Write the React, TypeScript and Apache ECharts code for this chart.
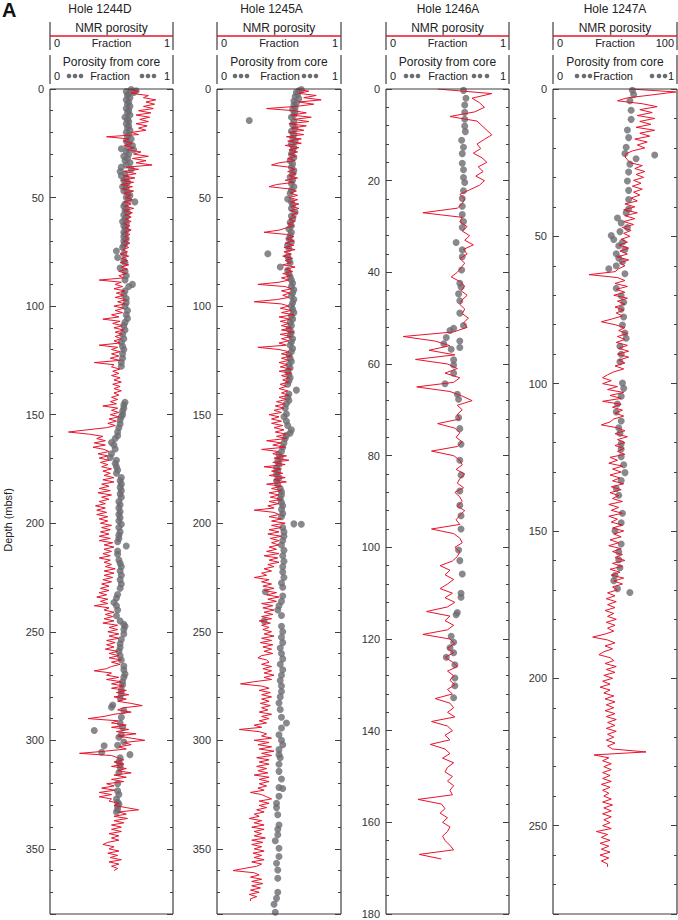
import React, { useEffect, useRef } from "react";
import * as echarts from "echarts";

// ---------- DATA ----------
const holes = ["Hole 1244D", "Hole 1245A", "Hole 1246A", "Hole 1247A"];
const depthMax = [380, 380, 180, 280];
const majorStep = [50, 50, 20, 50];
const minorStep = [10, 10, 4, 10];
const nmrAxisMax = [1, 1, 1, 100];
const nmrRightLabel = ["1", "1", "1", "100"];
const coreRightLabel = ["1", "1", "1", "1"];
const nmrDepthStep = [1, 1, 1, 1];

// NMR porosity (fraction; 1247A in percent), one reading per metre from 0 mbsf
const nmr1244D = [
  0.62, 0.72, 0.66, 0.80, 0.76, 0.86, 0.78, 0.85, 0.76, 0.84,
  0.72, 0.82, 0.70, 0.81, 0.73, 0.80, 0.70, 0.79, 0.72, 0.78,
  0.66, 0.72, 0.46, 0.64, 0.60, 0.67, 0.60, 0.68, 0.63, 0.74,
  0.68, 0.80, 0.67, 0.78, 0.70, 0.83, 0.62, 0.72, 0.60, 0.70,
  0.60, 0.69, 0.58, 0.68, 0.58, 0.67, 0.59, 0.68, 0.60, 0.66,
  0.61, 0.67, 0.60, 0.66, 0.61, 0.68, 0.60, 0.67, 0.61, 0.66,
  0.61, 0.66, 0.60, 0.65, 0.61, 0.66, 0.60, 0.65, 0.61, 0.64,
  0.60, 0.65, 0.60, 0.64, 0.59, 0.63, 0.57, 0.64, 0.58, 0.63,
  0.57, 0.64, 0.58, 0.63, 0.56, 0.62, 0.56, 0.60, 0.40, 0.58,
  0.53, 0.59, 0.52, 0.61, 0.54, 0.60, 0.53, 0.62, 0.55, 0.61,
  0.52, 0.60, 0.53, 0.59, 0.50, 0.56, 0.43, 0.57, 0.51, 0.59,
  0.52, 0.60, 0.53, 0.59, 0.53, 0.58, 0.52, 0.57, 0.40, 0.55,
  0.50, 0.57, 0.50, 0.56, 0.49, 0.57, 0.36, 0.52, 0.50, 0.57,
  0.51, 0.56, 0.50, 0.57, 0.52, 0.58, 0.51, 0.57, 0.52, 0.58,
  0.52, 0.56, 0.50, 0.55, 0.49, 0.54, 0.43, 0.55, 0.50, 0.56,
  0.49, 0.56, 0.48, 0.54, 0.47, 0.53, 0.46, 0.30, 0.15, 0.32,
  0.43, 0.38, 0.45, 0.36, 0.45, 0.35, 0.44, 0.48, 0.39, 0.47,
  0.40, 0.48, 0.41, 0.47, 0.42, 0.50, 0.43, 0.49, 0.44, 0.52,
  0.43, 0.52, 0.42, 0.48, 0.40, 0.49, 0.39, 0.50, 0.42, 0.48,
  0.40, 0.45, 0.37, 0.45, 0.38, 0.46, 0.38, 0.47, 0.40, 0.47,
  0.41, 0.50, 0.42, 0.49, 0.41, 0.48, 0.40, 0.49, 0.40, 0.51,
  0.44, 0.52, 0.44, 0.50, 0.43, 0.49, 0.40, 0.49, 0.44, 0.50,
  0.45, 0.53, 0.44, 0.52, 0.44, 0.51, 0.43, 0.50, 0.42, 0.48,
  0.41, 0.48, 0.40, 0.46, 0.38, 0.47, 0.41, 0.47, 0.36, 0.48,
  0.44, 0.52, 0.45, 0.51, 0.44, 0.52, 0.43, 0.55, 0.48, 0.55,
  0.47, 0.56, 0.48, 0.56, 0.46, 0.53, 0.46, 0.52, 0.45, 0.55,
  0.48, 0.56, 0.48, 0.58, 0.50, 0.57, 0.50, 0.46, 0.36, 0.50,
  0.46, 0.56, 0.46, 0.58, 0.50, 0.60, 0.50, 0.62, 0.54, 0.64,
  0.52, 0.62, 0.55, 0.66, 0.75, 0.60, 0.55, 0.66, 0.52, 0.44,
  0.31, 0.55, 0.50, 0.62, 0.50, 0.64, 0.54, 0.70, 0.55, 0.66,
  0.77, 0.60, 0.66, 0.56, 0.62, 0.45, 0.24, 0.50, 0.55, 0.60,
  0.52, 0.60, 0.50, 0.62, 0.55, 0.66, 0.52, 0.62, 0.50, 0.60,
  0.46, 0.52, 0.42, 0.53, 0.40, 0.50, 0.40, 0.50, 0.48, 0.56,
  0.52, 0.62, 0.72, 0.56, 0.62, 0.52, 0.63, 0.52, 0.60, 0.50,
  0.58, 0.50, 0.58, 0.48, 0.56, 0.50, 0.56, 0.47, 0.43, 0.52,
  0.48, 0.56, 0.47, 0.55, 0.49, 0.58, 0.48, 0.56, 0.50, 0.55,
  0.52,
];

const nmr1245A = [
  0.64, 0.74, 0.66, 0.80, 0.70, 0.84, 0.66, 0.78, 0.64, 0.40,
  0.62, 0.72, 0.60, 0.76, 0.62, 0.74, 0.58, 0.72, 0.60, 0.70,
  0.58, 0.70, 0.56, 0.68, 0.57, 0.68, 0.55, 0.66, 0.58, 0.65,
  0.58, 0.64, 0.57, 0.63, 0.50, 0.44, 0.58, 0.63, 0.57, 0.64,
  0.58, 0.65, 0.55, 0.62, 0.48, 0.42, 0.58, 0.64, 0.59, 0.65,
  0.58, 0.65, 0.59, 0.66, 0.60, 0.66, 0.59, 0.65, 0.60, 0.64,
  0.58, 0.63, 0.57, 0.62, 0.56, 0.50, 0.38, 0.56, 0.62, 0.56,
  0.62, 0.55, 0.62, 0.54, 0.63, 0.54, 0.60, 0.53, 0.61, 0.55,
  0.60, 0.53, 0.63, 0.55, 0.61, 0.53, 0.60, 0.52, 0.58, 0.50,
  0.33, 0.55, 0.60, 0.52, 0.59, 0.53, 0.58, 0.48, 0.30, 0.52,
  0.58, 0.51, 0.60, 0.52, 0.62, 0.50, 0.59, 0.51, 0.58, 0.52,
  0.60, 0.52, 0.62, 0.51, 0.60, 0.52, 0.58, 0.50, 0.56, 0.33,
  0.50, 0.58, 0.52, 0.60, 0.52, 0.58, 0.50, 0.57, 0.51, 0.60,
  0.50, 0.60, 0.52, 0.58, 0.53, 0.58, 0.51, 0.56, 0.50, 0.57,
  0.52, 0.58, 0.50, 0.56, 0.48, 0.55, 0.47, 0.54, 0.46, 0.52,
  0.42, 0.50, 0.44, 0.52, 0.44, 0.53, 0.46, 0.54, 0.47, 0.56,
  0.48, 0.56, 0.40, 0.52, 0.45, 0.55, 0.36, 0.50, 0.45, 0.56,
  0.46, 0.58, 0.45, 0.55, 0.38, 0.52, 0.44, 0.53, 0.42, 0.55,
  0.46, 0.56, 0.40, 0.52, 0.44, 0.52, 0.42, 0.50, 0.43, 0.52,
  0.42, 0.50, 0.41, 0.46, 0.30, 0.46, 0.50, 0.42, 0.52, 0.44,
  0.55, 0.44, 0.52, 0.42, 0.50, 0.41, 0.52, 0.43, 0.50, 0.44,
  0.50, 0.42, 0.48, 0.40, 0.50, 0.38, 0.49, 0.42, 0.50, 0.41,
  0.46, 0.38, 0.44, 0.36, 0.40, 0.30, 0.42, 0.36, 0.44, 0.37,
  0.46, 0.38, 0.48, 0.40, 0.50, 0.41, 0.48, 0.36, 0.45, 0.37,
  0.46, 0.38, 0.45, 0.36, 0.44, 0.34, 0.43, 0.36, 0.42, 0.37,
  0.44, 0.38, 0.46, 0.36, 0.44, 0.35, 0.45, 0.37, 0.44, 0.38,
  0.45, 0.36, 0.33, 0.40, 0.42, 0.36, 0.44, 0.37, 0.44, 0.38,
  0.46, 0.38, 0.44, 0.30, 0.19, 0.36, 0.42, 0.34, 0.43, 0.36,
  0.44, 0.36, 0.42, 0.35, 0.43, 0.36, 0.41, 0.34, 0.44, 0.36,
  0.42, 0.34, 0.40, 0.30, 0.36, 0.18, 0.34, 0.40, 0.36, 0.44,
  0.30, 0.42, 0.33, 0.44, 0.34, 0.46, 0.36, 0.44, 0.32, 0.42,
  0.34, 0.42, 0.32, 0.40, 0.33, 0.41, 0.30, 0.42, 0.34, 0.42,
  0.34, 0.40, 0.33, 0.38, 0.27, 0.36, 0.40, 0.44, 0.34, 0.42,
  0.34, 0.40, 0.32, 0.38, 0.30, 0.34, 0.26, 0.36, 0.30, 0.38,
  0.28, 0.38, 0.30, 0.36, 0.30, 0.39, 0.28, 0.37, 0.28, 0.36,
  0.30, 0.38, 0.29, 0.36, 0.30, 0.38, 0.28, 0.36, 0.32, 0.22,
  0.13, 0.30, 0.34, 0.27, 0.36, 0.28, 0.37, 0.28, 0.35, 0.27,
  0.34, 0.26, 0.32, 0.27, 0.27,
];

const nmr1246A = [
  0.42, 0.86, 0.70, 0.76, 0.80, 0.72, 0.52, 0.74, 0.78, 0.82,
  0.86, 0.80, 0.74, 0.77, 0.71, 0.78, 0.82, 0.75, 0.79, 0.73,
  0.80, 0.76, 0.68, 0.60, 0.64, 0.62, 0.58, 0.30, 0.62, 0.60,
  0.66, 0.62, 0.68, 0.64, 0.71, 0.63, 0.66, 0.60, 0.64, 0.61,
  0.58, 0.53, 0.60, 0.64, 0.61, 0.66, 0.62, 0.60, 0.64, 0.62,
  0.67, 0.63, 0.66, 0.55, 0.14, 0.40, 0.52, 0.35, 0.56, 0.24,
  0.50, 0.58, 0.48, 0.60, 0.55, 0.25, 0.52, 0.62, 0.70, 0.58,
  0.62, 0.58, 0.60, 0.42, 0.56, 0.60, 0.57, 0.62, 0.58, 0.37,
  0.55, 0.60, 0.62, 0.57, 0.64, 0.60, 0.58, 0.63, 0.56, 0.60,
  0.62, 0.58, 0.64, 0.60, 0.57, 0.60, 0.37, 0.55, 0.60, 0.62,
  0.56, 0.60, 0.58, 0.54, 0.44, 0.52, 0.48, 0.55, 0.50, 0.44,
  0.54, 0.48, 0.56, 0.50, 0.33, 0.52, 0.48, 0.55, 0.50, 0.30,
  0.52, 0.56, 0.50, 0.55, 0.48, 0.54, 0.58, 0.50, 0.55, 0.52,
  0.56, 0.50, 0.54, 0.40, 0.52, 0.55, 0.50, 0.56, 0.37, 0.50,
  0.54, 0.48, 0.52, 0.36, 0.48, 0.52, 0.46, 0.55, 0.50, 0.48,
  0.54, 0.50, 0.55, 0.52, 0.54, 0.26, 0.45, 0.48, 0.44, 0.50,
  0.46, 0.52, 0.50, 0.46, 0.48, 0.52, 0.55, 0.27, 0.45,
];

const nmr1247A = [
  62, 99, 80, 60, 52, 72, 84, 70, 80, 68,
  82, 70, 79, 67, 82, 70, 78, 66, 76, 68,
  74, 64, 59, 58, 60, 62, 72, 66, 74, 67,
  73, 65, 71, 64, 72, 65, 70, 63, 68, 58,
  66, 57, 68, 58, 66, 57, 65, 56, 63, 57,
  62, 55, 60, 53, 61, 54, 60, 52, 61, 54,
  58, 53, 50, 29, 52, 58, 50, 60, 51, 58,
  49, 60, 52, 58, 50, 57, 51, 56, 48, 39,
  50, 58, 53, 60, 52, 58, 51, 60, 53, 61,
  52, 61, 53, 58, 50, 57, 49, 44, 40, 47,
  40, 52, 44, 57, 46, 55, 40, 55, 48, 56,
  50, 57, 49, 46, 39, 52, 58, 50, 60, 52,
  58, 50, 57, 52, 58, 46, 52, 45, 56, 48,
  55, 46, 54, 48, 57, 47, 55, 46, 53, 48,
  56, 45, 53, 47, 56, 45, 52, 47, 56, 48,
  57, 49, 55, 46, 53, 45, 55, 48, 56, 50,
  58, 48, 56, 46, 54, 47, 57, 49, 56, 48,
  52, 44, 50, 43, 51, 44, 50, 42, 49, 44,
  51, 43, 50, 44, 49, 42, 32, 44, 50, 42,
  48, 41, 37, 46, 49, 42, 51, 43, 50, 41,
  48, 40, 46, 38, 46, 41, 49, 42, 50, 43,
  49, 42, 50, 43, 51, 44, 50, 43, 51, 44,
  49, 43, 50, 44, 48, 75, 33, 45, 40, 47,
  41, 47, 40, 46, 40, 47, 39, 46, 40, 45,
  41, 47, 40, 48, 41, 47, 40, 47, 41, 46,
  40, 47, 35, 44, 39, 46, 38, 45, 39, 46,
  38, 45, 39, 44, 44,
];

// Porosity from core: [depth (mbsf), fraction]
const core1244D: number[][] = [
  [0.3,0.66],[0.8,0.70],[1.2,0.62],[1.6,0.68],[2.2,0.64],[3,0.63],[4,0.65],[5,0.62],[6,0.64],[7,0.63],
  [8,0.65],[9,0.62],[10,0.64],[11,0.63],[12,0.65],[13,0.61],[14,0.63],[15,0.64],[16,0.62],[17,0.64],
  [18,0.63],[19,0.65],[20,0.62],[21,0.64],[22,0.63],[23,0.66],[24,0.62],[25,0.64],[26,0.67],[27,0.63],
  [27.5,0.58],[28,0.68],[29,0.62],[30,0.64],[31,0.60],[32,0.63],[33,0.61],[34,0.65],[35,0.62],[36,0.58],
  [37,0.66],[38,0.57],[39,0.61],[40,0.58],[41,0.62],[42,0.60],[43,0.63],[44,0.61],[45,0.59],[46,0.62],
  [47,0.60],[48,0.63],[49,0.65],[50,0.62],[51,0.64],[52,0.69],[53,0.61],[54,0.60],[55,0.62],[56,0.61],
  [57,0.63],[58,0.60],[59,0.62],[60,0.61],[61,0.59],[62,0.62],[63,0.60],[64,0.61],[65,0.62],[66,0.60],
  [67,0.61],[68,0.60],[69,0.62],[70,0.60],[71,0.61],[72,0.60],[73,0.59],[74.6,0.54],[76,0.60],[77.6,0.55],
  [79,0.60],[80,0.61],[82.5,0.57],[84,0.61],[86,0.62],[88,0.61],[90,0.67],[91,0.64],[93,0.61],[94.7,0.60],
  [96.5,0.62],[98.4,0.62],[100,0.61],[102,0.63],[104,0.62],[105.7,0.63],[107.5,0.61],[109,0.60],[111,0.61],[113,0.59],
  [115,0.60],[116.7,0.58],[118.5,0.59],[120,0.60],[122,0.59],[124,0.59],[126,0.58],[127.7,0.58],
  [144.3,0.61],[145.5,0.60],[147,0.60],[148.5,0.59],[150,0.59],[151,0.58],[152.5,0.57],[154.3,0.57],[156,0.56],[158,0.55],
  [159.7,0.55],[161,0.53],[162.8,0.50],[164,0.52],[165.8,0.53],[168,0.50],[169.7,0.49],[171,0.54],[172.5,0.53],[174,0.54],
  [175.5,0.55],[177,0.54],[179,0.58],[180.5,0.57],[182,0.58],[183.5,0.57],[185,0.58],[186.6,0.57],[188,0.58],[190,0.56],
  [191.5,0.57],[193,0.56],[194.7,0.57],[196,0.56],[197.5,0.57],[199,0.56],[200.5,0.58],[202,0.56],[204,0.57],[205.5,0.56],
  [207,0.56],[208.5,0.55],[210.5,0.62],[212.8,0.55],[214.3,0.55],[217,0.56],[218.5,0.57],[220,0.58],[222,0.57],[224,0.58],
  [226,0.57],[228,0.58],[230,0.57],[232.8,0.55],[234.5,0.54],[236.5,0.52],[238,0.54],[240,0.55],[242.6,0.54],[245,0.57],
  [246.5,0.60],[247.5,0.61],[249,0.60],[251,0.60],[253.6,0.58],[255.5,0.57],[257.3,0.57],[259,0.56],[261,0.57],[263,0.58],
  [265.8,0.60],[267.5,0.60],[269.5,0.61],[271,0.60],[273,0.59],[274.5,0.59],[276.9,0.58],[278.5,0.58],[280.5,0.57],[283.7,0.51],
  [284.8,0.50],[286.3,0.60],[289.4,0.58],[292,0.57],[294,0.59],[295.5,0.36],[297.4,0.58],[298.6,0.56],[300.8,0.60],[302.3,0.55],
  [302.5,0.44],[305.5,0.42],[306.6,0.65],[308,0.57],[309.9,0.56],[311,0.57],[312.3,0.57],[314.8,0.56],[320,0.55],[323.3,0.55],
  [325,0.56],[327,0.54],[328.5,0.55],[329.4,0.56],[330.5,0.55],[331.9,0.55],[333,0.54],
];

const core1245A: number[][] = [
  [0.2,0.68],[0.8,0.66],[1.5,0.64],[2.5,0.65],[3.5,0.63],[4.5,0.66],[5.5,0.62],[6.5,0.64],[7.5,0.62],[8.5,0.63],
  [9.5,0.61],[10.5,0.63],[12,0.62],[13,0.60],[14.5,0.26],[15,0.62],[16.5,0.61],[18,0.63],[19.5,0.60],[21,0.62],
  [22.5,0.61],[24,0.63],[25.5,0.60],[27,0.62],[28.5,0.61],[30,0.60],[31.5,0.62],[33,0.59],[34.5,0.61],[36,0.60],
  [37.5,0.62],[39,0.61],[40.5,0.59],[42,0.61],[43.5,0.60],[45,0.62],[46.5,0.60],[48,0.59],[50.7,0.57],[52,0.60],
  [53.5,0.61],[55,0.60],[56.8,0.63],[58.5,0.60],[60,0.61],[61.5,0.59],[63,0.60],[64.5,0.58],[66,0.60],[67.5,0.59],
  [69,0.58],[70.5,0.60],[72,0.57],[73.5,0.58],[75.9,0.41],[77,0.57],[78.5,0.58],[80,0.59],[82,0.51],[83.5,0.57],
  [85,0.58],[86.5,0.59],[88,0.60],[89.5,0.61],[91,0.60],[92.5,0.62],[94,0.61],[95.5,0.60],[97,0.62],[98.5,0.61],
  [100,0.60],[101.5,0.61],[103,0.62],[104.5,0.60],[106,0.61],[107.5,0.59],[109,0.60],[110.5,0.58],[112,0.60],[113.5,0.59],
  [115,0.61],[116.5,0.60],[118,0.59],[119.5,0.61],[121,0.60],[122.5,0.58],[124,0.59],[125.5,0.60],[127,0.58],[128.5,0.59],
  [130,0.57],[131.5,0.58],[133,0.59],[134.5,0.58],[136,0.57],[138.7,0.64],[140.5,0.58],[142,0.57],[143.5,0.58],[145,0.56],
  [147,0.55],[149.7,0.56],[151,0.54],[153,0.56],[155,0.57],[157,0.60],[158.5,0.59],[159.5,0.56],[161,0.55],[163,0.54],
  [165,0.53],[167,0.52],[168.5,0.50],[170,0.51],[171.5,0.49],[173,0.50],[174.5,0.48],[176,0.49],[177.5,0.48],[179,0.50],
  [180.5,0.48],[182,0.49],[184,0.51],[185.5,0.52],[187,0.52],[188.8,0.51],[190.5,0.52],[192,0.53],[193.7,0.52],[195.5,0.53],
  [197,0.52],[200.3,0.62],[200.5,0.68],[202,0.53],[204,0.54],[206,0.54],[208,0.53],[210,0.52],[212.5,0.54],[215,0.53],
  [217.5,0.54],[220,0.53],[222.5,0.53],[225,0.54],[227.5,0.52],[229.5,0.53],[231.6,0.39],[233.5,0.53],[236,0.52],[238,0.50],
  [240,0.49],[242.5,0.52],[245,0.38],[247.5,0.52],[250,0.53],[252.5,0.52],[255,0.53],[257.5,0.51],[260,0.52],[262.5,0.53],
  [265,0.51],[267.5,0.53],[270,0.52],[272.5,0.51],[275,0.52],[277.5,0.52],[280,0.51],[282.8,0.50],[285.8,0.51],[289.4,0.52],
  [292,0.56],[294.3,0.52],[297.4,0.50],[300,0.52],[302,0.53],[304.3,0.50],[306.6,0.50],[308,0.51],[311,0.50],[314.3,0.50],
  [317.8,0.52],[321.7,0.50],[322.2,0.53],[325.8,0.50],[329,0.48],[331,0.48],[334.3,0.49],[339,0.50],[341,0.49],[343.5,0.49],
  [346.3,0.47],[349.7,0.50],[353.5,0.50],[356.6,0.48],[359.7,0.49],[363.5,0.49],[370,0.49],[372.8,0.48],[375.5,0.46],[379.2,0.47],
];

const core1246A: number[][] = [
  [0.3,0.63],[2,0.65],[3.5,0.64],[5.1,0.64],[6.6,0.64],[8.1,0.64],[9.3,0.645],[11.2,0.615],[12.7,0.63],[14.1,0.62],
  [16.2,0.62],[17.6,0.63],[19.3,0.63],[20.4,0.64],[22.2,0.63],[23.9,0.62],[25.6,0.62],[27.4,0.62],[28.9,0.63],[30.2,0.62],
  [33.5,0.57],[35.1,0.62],[36.6,0.62],[39.5,0.615],[42.4,0.60],[43.2,0.61],[44.7,0.59],[46.2,0.60],[48.9,0.60],[51.6,0.63],
  [52.2,0.55],[52.7,0.52],[54.2,0.49],[55,0.60],[55.6,0.47],[56.4,0.60],[56.8,0.53],[59.1,0.55],[60.2,0.55],[62,0.55],
  [64.3,0.48],[66.6,0.58],[67.7,0.59],[71.7,0.59],[74.1,0.60],[77.5,0.61],[81,0.60],[84.2,0.61],[87.7,0.60],[90.8,0.60],
  [93.1,0.61],[96,0.61],[100.6,0.59],[102.9,0.60],[105.8,0.62],[110,0.61],[110.9,0.61],[114.2,0.58],[114.7,0.57],[119.4,0.53],
  [120.7,0.55],[121.9,0.52],[123,0.55],[124,0.49],[125.6,0.56],[128.5,0.56],[130.2,0.56],[132.8,0.55],
];

const core1247A: number[][] = [
  [0.4,0.64],[1.9,0.65],[4,0.62],[7.2,0.63],[10.3,0.63],[13.9,0.60],[16.5,0.61],[19.8,0.59],[21.9,0.58],[22.4,0.82],
  [23.7,0.67],[25.5,0.62],[28.2,0.61],[31.2,0.60],[34.4,0.61],[37.5,0.61],[40.7,0.61],[42,0.59],[43.8,0.52],[45.5,0.55],
  [47,0.60],[48.4,0.54],[49.7,0.47],[51.1,0.49],[52,0.56],[53.2,0.53],[54.5,0.58],[55.9,0.51],[57.4,0.53],[58.6,0.56],
  [60,0.51],[61,0.45],[62.7,0.58],[67.6,0.51],[70.2,0.55],[72.4,0.57],[74.7,0.55],[77.4,0.57],[80.1,0.56],[82.8,0.58],
  [84.6,0.59],[87.3,0.54],[90,0.55],[92.6,0.54],[99.8,0.56],[101.6,0.57],[104.3,0.55],[106.9,0.52],[109.6,0.51],[112.7,0.55],
  [115,0.53],[116.8,0.54],[120.4,0.55],[122.2,0.55],[124.8,0.55],[127.5,0.57],[130.2,0.58],[132.9,0.55],[135.6,0.51],[137.9,0.53],
  [144,0.56],[147.2,0.55],[149.9,0.50],[154.4,0.55],[157.1,0.53],[159.8,0.53],[162.5,0.54],[165.1,0.50],[166.9,0.49],[169.6,0.52],
  [170.9,0.62],
];

const nmrSeries = [nmr1244D, nmr1245A, nmr1246A, nmr1247A];
const coreSeries = [core1244D, core1245A, core1246A, core1247A];

// ---------- LAYOUT ----------
const FAMILY = "'Liberation Sans', Arial, Helvetica, sans-serif";
const gridLeft = [50, 217, 386, 553];
const gridWidth = [123, 124, 123, 124];
const gridTop = 89;
const gridHeight = 825;
const titleX = [100, 271.5, 448, 615];
const fractionX = [110, 280, 448, 613];
const leftDots = [[69, 75, 81], [235, 241, 247], [406, 412, 418], [577, 584, 590]];
const rightDots = [[142, 148, 154], [304, 310, 316], [474, 480, 487], [652, 659, 665]];
const AXIS = "#3f3f3f";
const RED = "#e8132c";
const DOT = "#6b6c70";

function buildOption(): any {
  const grids: any[] = [];
  const xAxes: any[] = [];
  const yAxes: any[] = [];
  const series: any[] = [];
  const graphics: any[] = [];

  const ln = (x1: number, y1: number, x2: number, y2: number, stroke = AXIS, w = 1.2) => ({
    type: "line", silent: true, z: 100, shape: { x1, y1, x2, y2 }, style: { stroke, lineWidth: w },
  });
  const txt = (x: number, y: number, text: string, size: number, align = "center") => ({
    type: "text", x, y, silent: true,
    style: {
      text, font: `${size}px ${FAMILY}`, fill: "#222",
      textAlign: align, textVerticalAlign: "middle",
    },
  });

  for (let p = 0; p < 4; p++) {
    const L = gridLeft[p];
    const R = L + gridWidth[p];
    const C = (L + R) / 2;
    const T = gridTop;
    const B = gridTop + gridHeight;
    grids.push({ left: L, top: T, width: gridWidth[p], height: gridHeight, containLabel: false });

    xAxes.push({ type: "value", gridIndex: p, min: 0, max: 1, show: false });
    xAxes.push({ type: "value", gridIndex: p, min: 0, max: nmrAxisMax[p], show: false });

    const mk = (position: string, interval: number, len: number, labels: boolean) => ({
      type: "value", gridIndex: p, position, inverse: true, min: 0, max: depthMax[p], interval,
      axisLine: { show: false },
      splitLine: { show: false },
      axisTick: { show: true, inside: true, length: len, lineStyle: { color: AXIS, width: 1 } },
      axisLabel: labels
        ? {
            show: true, margin: 6, color: "#333", fontSize: 11, fontFamily: FAMILY,
            formatter: (v: number) => (v % majorStep[p] === 0 ? String(v) : ""),
          }
        : { show: false },
    });
    yAxes.push(mk("left", majorStep[p], 6, true));
    yAxes.push(mk("left", minorStep[p], 3, false));
    yAxes.push(mk("right", majorStep[p], 6, false));
    yAxes.push(mk("right", minorStep[p], 3, false));

    series.push({
      type: "scatter", xAxisIndex: 2 * p, yAxisIndex: 4 * p,
      data: coreSeries[p].map(([d, v]) => [v, d]),
      symbol: "circle", symbolSize: 7, itemStyle: { color: DOT }, z: 2, silent: true,
    });
    series.push({
      type: "line", xAxisIndex: 2 * p + 1, yAxisIndex: 4 * p,
      data: nmrSeries[p].map((v, i) => [v, i * nmrDepthStep[p]]),
      showSymbol: false, symbol: "none", lineStyle: { color: RED, width: 1 }, z: 3, silent: true,
    });

    // plot frame
    graphics.push(ln(L, T, R, T));
    graphics.push(ln(L, B, R, B));
    graphics.push(ln(L, T, L, B));
    graphics.push(ln(R, T, R, B));

    // header
    graphics.push(txt(titleX[p], 9, holes[p], 12));
    graphics.push(ln(L, 22, L, 50));
    graphics.push(ln(R, 22, R, 50));
    graphics.push(ln(L, 36, R, 36, RED, 1.4));
    graphics.push(txt(C, 28, "NMR porosity", 12));
    graphics.push(txt(L + 4, 43, "0", 11, "left"));
    graphics.push(txt(C, 43, "Fraction", 11));
    graphics.push(txt(R - 3, 43, nmrRightLabel[p], 11, "right"));
    graphics.push(ln(L, 55, L, 84));
    graphics.push(ln(R, 55, R, 84));
    graphics.push(txt(C, 62, "Porosity from core", 12));
    graphics.push(txt(L + 4, 76, "0", 11, "left"));
    graphics.push(txt(fractionX[p], 76, "Fraction", 11));
    graphics.push(txt(R - 3, 76, coreRightLabel[p], 11, "right"));
    [...leftDots[p], ...rightDots[p]].forEach((cx) =>
      graphics.push({ type: "circle", silent: true, shape: { cx, cy: 76, r: 2.3 }, style: { fill: DOT } })
    );
  }

  graphics.push({
    type: "text", x: 2, y: 10, silent: true,
    style: { text: "A", font: `bold 20px ${FAMILY}`, fill: "#111", textAlign: "left", textVerticalAlign: "middle" },
  });
  graphics.push({
    type: "text", x: 8, y: 520, rotation: Math.PI / 2, silent: true,
    style: { text: "Depth (mbsf)", font: `11px ${FAMILY}`, fill: "#222", textAlign: "center", textVerticalAlign: "middle" },
  });

  return {
    animation: false,
    backgroundColor: "#ffffff",
    grid: grids,
    xAxis: xAxes,
    yAxis: yAxes,
    series,
    graphic: graphics,
  };
}

export default function App() {
  const ref = useRef<HTMLDivElement>(null);
  useEffect(() => {
    if (!ref.current) return;
    const chart = echarts.init(ref.current, undefined, { renderer: "svg" });
    chart.setOption(buildOption());
    return () => chart.dispose();
  }, []);
  return (
    <div
      ref={ref}
      style={{ position: "absolute", left: 0, top: 0, width: 678, height: 920, background: "#fff" }}
    />
  );
}
